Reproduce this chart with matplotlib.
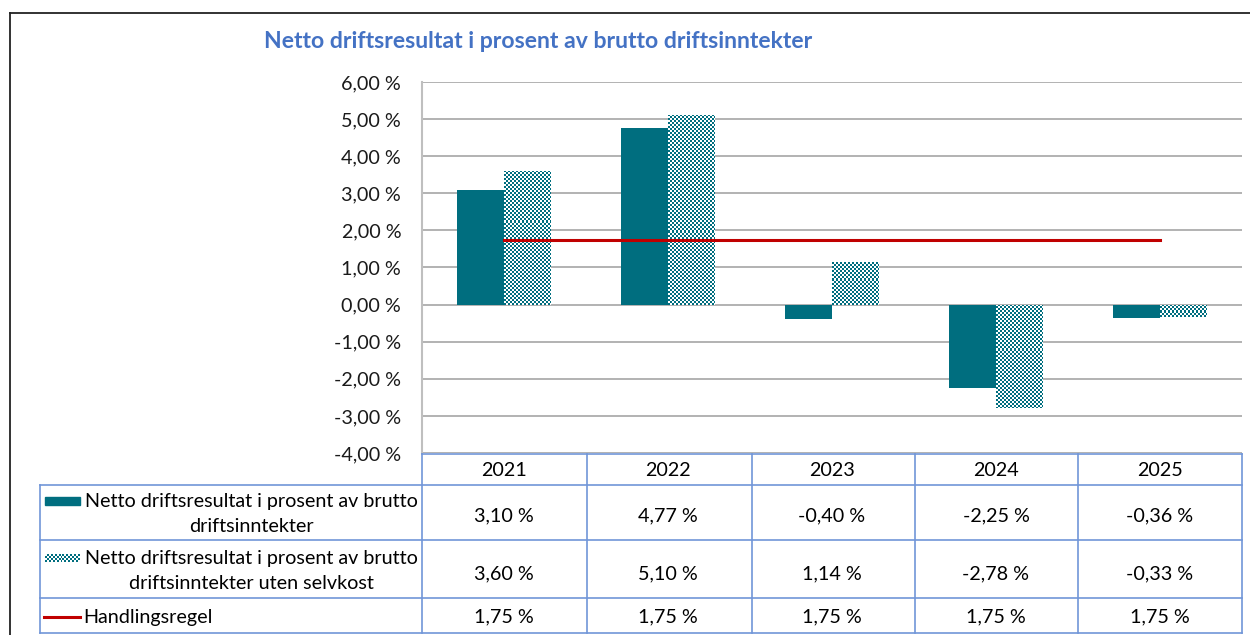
import numpy as np
import matplotlib
matplotlib.use('Agg')
import matplotlib.pyplot as plt
from matplotlib.colors import ListedColormap
from matplotlib.patches import Rectangle
from matplotlib.lines import Line2D

plt.rcParams['font.family'] = ['Lato', 'DejaVu Sans']

years = ['2021', '2022', '2023', '2024', '2025']
netto = [3.10, 4.77, -0.40, -2.25, -0.36]
netto_uten_selvkost = [3.60, 5.10, 1.14, -2.78, -0.33]
handlingsregel = [1.75, 1.75, 1.75, 1.75, 1.75]
series_names = ['Netto driftsresultat i prosent av brutto\ndriftsinntekter',
                'Netto driftsresultat i prosent av brutto\ndriftsinntekter uten selvkost',
                'Handlingsregel']
yticks = [-4, -3, -2, -1, 0, 1, 2, 3, 4, 5, 6]
title = 'Netto driftsresultat i prosent av brutto driftsinntekter'

TEAL = '#006E7F'
RED = '#C00000'
GRID = '#A6A6A6'
TBL = '#7196D8'
FS = 14.2
W, H = 1250, 635


def px(x, y):
  return x / W, 1 - y / H


def fmt(v):
  return ('%.2f %%' % v).replace('.', ',')


fig = plt.figure(figsize=(12.5, 6.35), dpi=100)

# outer frame (right/bottom run past the picture)
fig.add_artist(Line2D([px(10, 0)[0], px(1260, 0)[0]], [px(0, 13)[1]] * 2, color='#222222', lw=1.3))
fig.add_artist(Line2D([px(10, 0)[0]] * 2, [px(0, 13)[1], px(0, 650)[1]], color='#222222', lw=1.3))

l, t = px(422, 82)
r, b = px(1242, 453)
ax = fig.add_axes([l, b, r - l, t - b])

x = np.arange(len(years))
bw = 0.285
ax.bar(x - bw / 2, netto, bw, color=TEAL, zorder=2)
bars2 = ax.bar(x + bw / 2, netto_uten_selvkost, bw, color='none', zorder=2)

# checkered fill for the second series
ncol, nrow = 820 // 2, 371 // 2
checker = (np.add.outer(np.arange(nrow), np.arange(ncol)) % 2).astype(float)
cmap = ListedColormap(['white', TEAL])
for bar in bars2:
  im = ax.imshow(checker, cmap=cmap, extent=(-0.5, 4.5, -4, 6), aspect='auto',
                 interpolation='nearest', zorder=2)
  im.set_clip_path(bar)

ax.plot(x, handlingsregel, color=RED, lw=2.2, zorder=3)

ax.set_xlim(-0.5, 4.5)
ax.set_ylim(-4, 6)
ax.set_yticks(yticks)
ax.set_yticklabels([fmt(v) for v in yticks], fontsize=FS, color='#1a1a1a')
ax.set_xticks([])
ax.tick_params(axis='y', length=0, pad=15)
ax.grid(axis='y', color=GRID, lw=1.2, zorder=0)
for s in ['top', 'right', 'bottom']:
  ax.spines[s].set_visible(False)
ax.spines['left'].set_color('#BFBFBF')
ax.spines['left'].set_linewidth(1.5)

fig.text(*px(538, 41), title, fontsize=16.6, fontweight='bold', color='#4472C4',
         ha='center', va='center')

# data table
col_edges = [422, 587, 752, 915, 1078, 1242]
row_lines = [485, 540, 598, 633]


def hline(y, x0, x1):
  fig.add_artist(Line2D([px(x0, 0)[0], px(x1, 0)[0]], [px(0, y)[1]] * 2, color=TBL, lw=1.2))


def vline(xx, y0, y1):
  fig.add_artist(Line2D([px(xx, 0)[0]] * 2, [px(0, y0)[1], px(0, y1)[1]], color=TBL, lw=1.2))


hline(454, 422, 1242)
for y in row_lines:
  hline(y, 40, 1242)
for xx in col_edges:
  vline(xx, 454, 633)
vline(40, 485, 633)

centers = ax.transData.transform(np.column_stack([x, np.zeros(len(x))]))[:, 0]
for c, yr in zip(centers, years):
  fig.text(c / W, px(0, 470)[1], yr, fontsize=FS, ha='center', va='center')
for yy, vals in [(516, netto), (574, netto_uten_selvkost), (617, handlingsregel)]:
  for c, v in zip(centers, vals):
    fig.text(c / W, px(0, yy)[1], fmt(v), fontsize=FS, ha='center', va='center')

# legend keys + labels
fig.text(*px(251, 514), series_names[0], fontsize=FS, ha='center', va='center',
         multialignment='center', linespacing=1.55)
fig.text(*px(251, 571), series_names[1], fontsize=FS, ha='center', va='center',
         multialignment='center', linespacing=1.55)
fig.text(*px(83, 617), series_names[2], fontsize=FS, ha='left', va='center')

x0, y0 = px(45, 505)
fig.add_artist(Rectangle((x0, y0), 35 / W, 8 / H, color=TEAL, transform=fig.transFigure))
kax = fig.add_axes([45 / W, 1 - 562 / H, 35 / W, 8 / H])
kax.imshow(checker[:4, :18], cmap=cmap, aspect='auto', interpolation='nearest')
kax.axis('off')
fig.add_artist(Line2D([px(44, 0)[0], px(80, 0)[0]], [px(0, 617)[1]] * 2, color=RED, lw=2.2))

fig.savefig('out.png', dpi=100)
